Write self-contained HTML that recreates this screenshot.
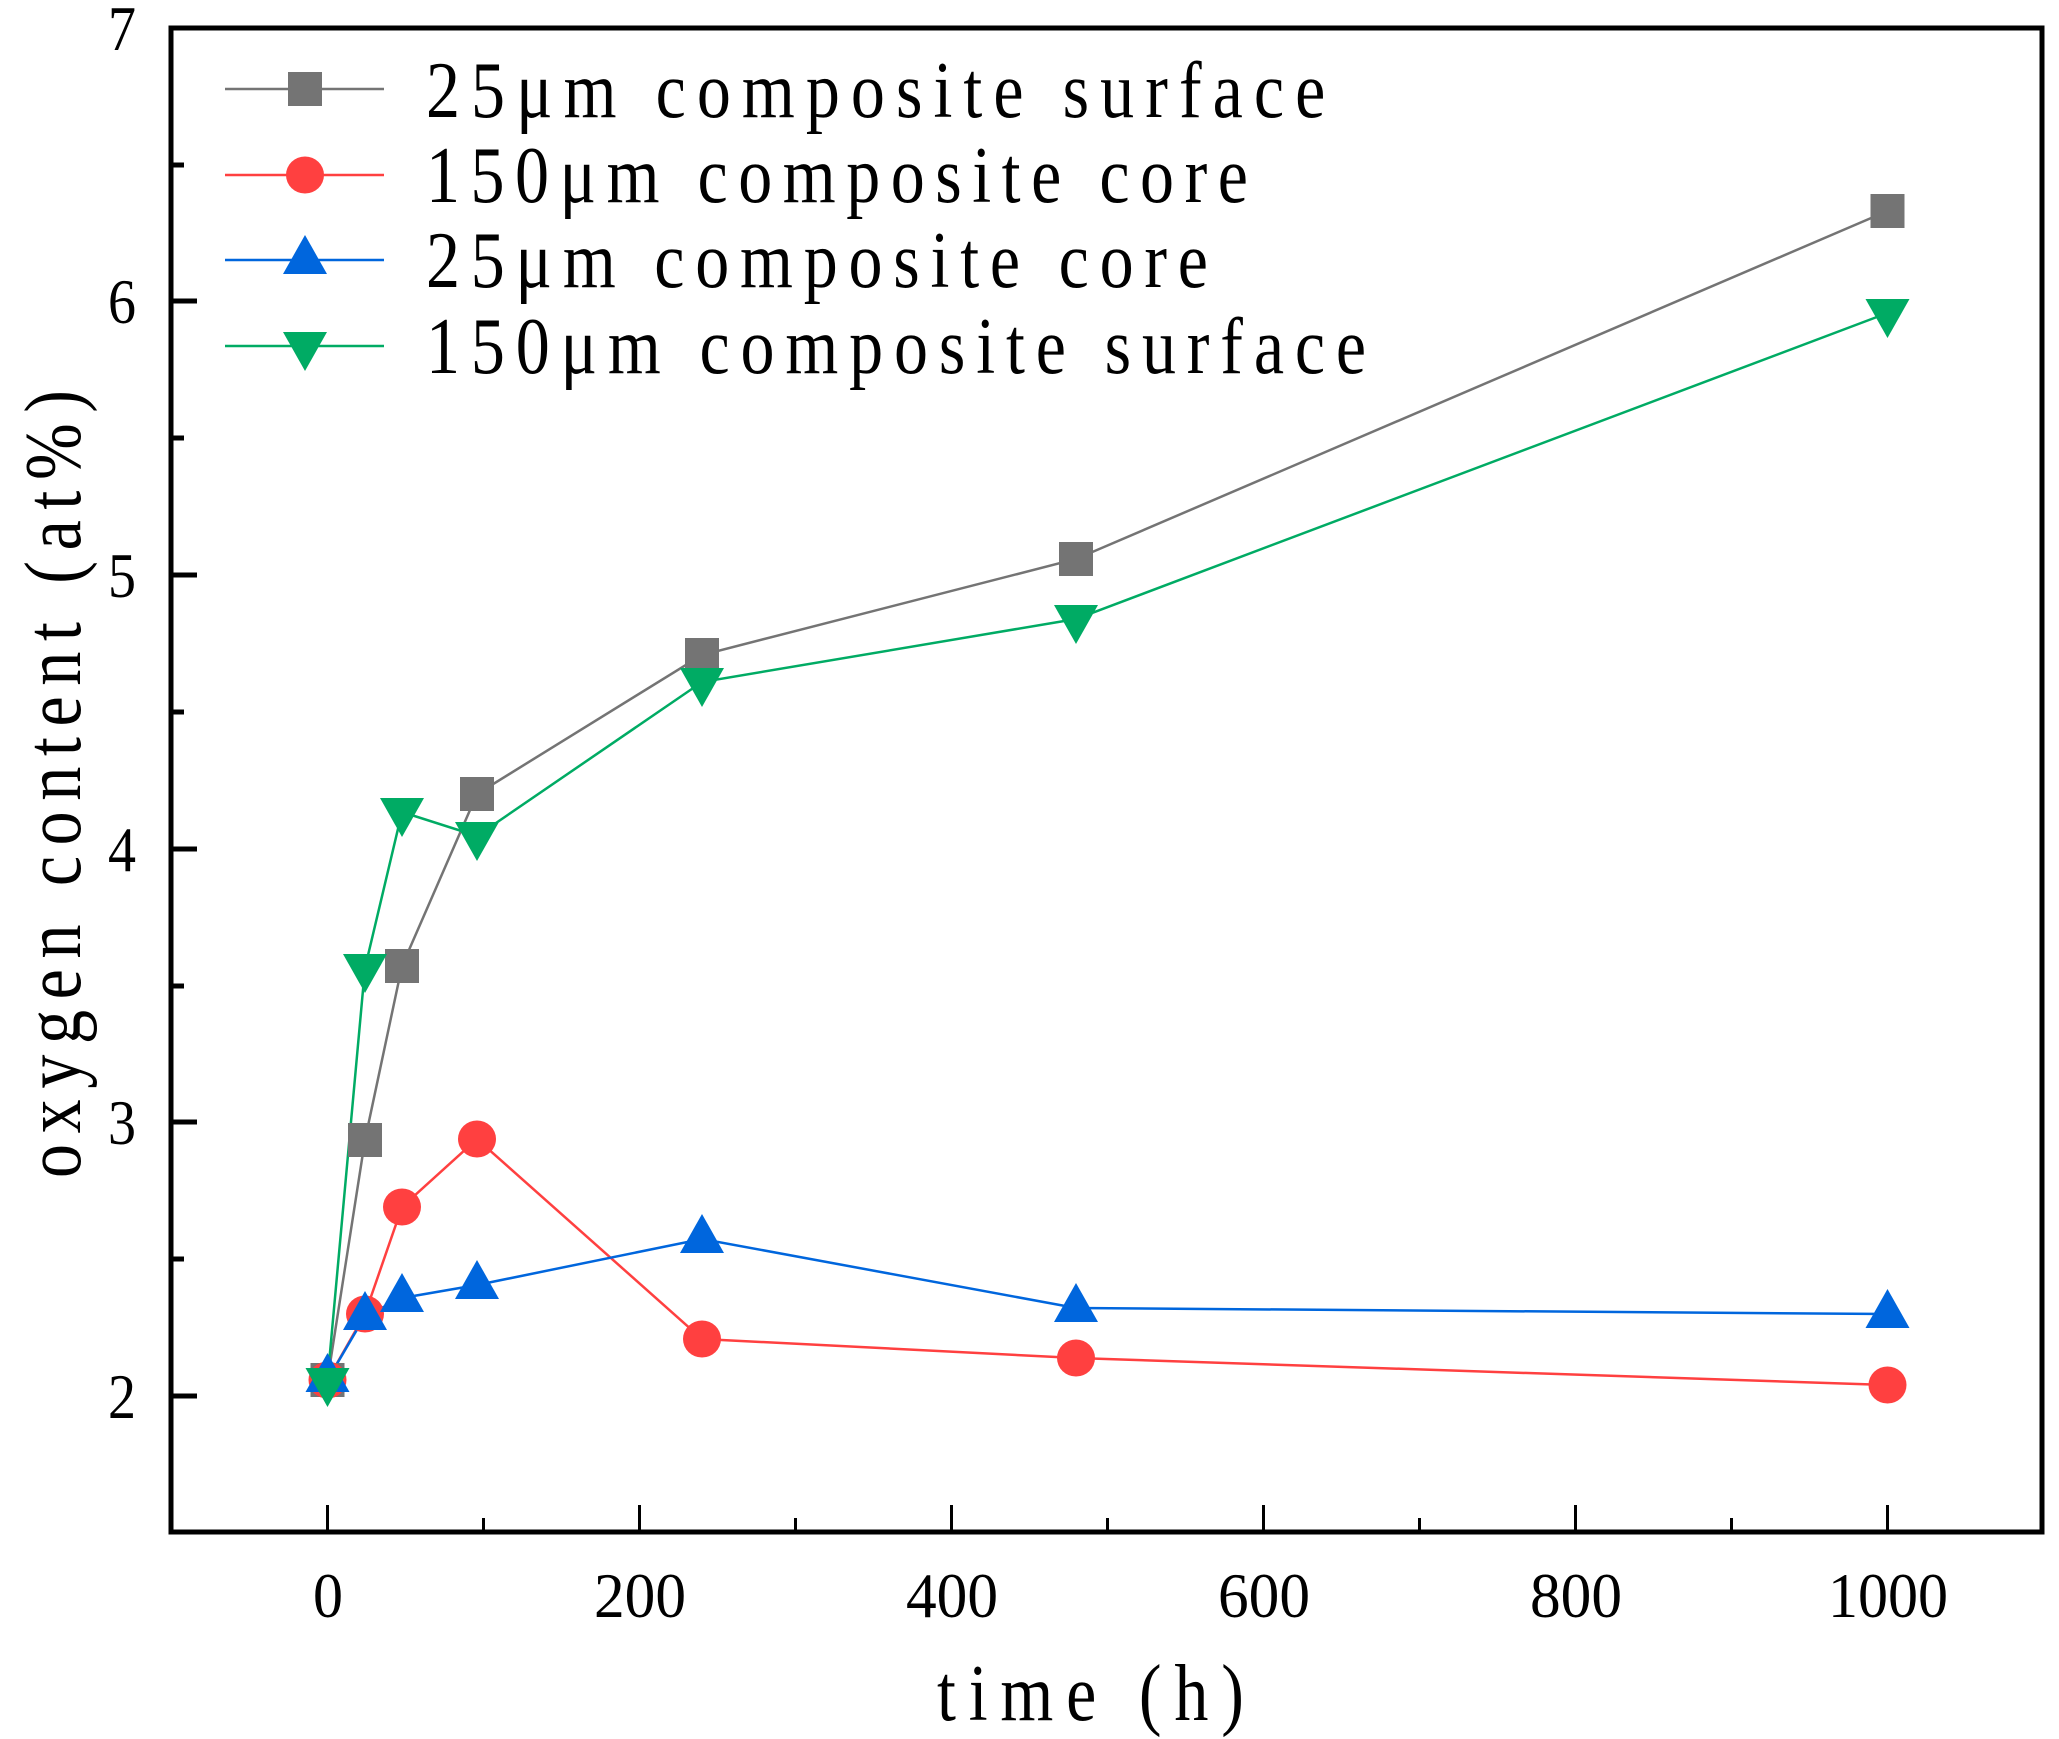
<!DOCTYPE html>
<html><head><meta charset="utf-8"><style>html,body{margin:0;padding:0;background:#fff}svg{display:block}</style></head>
<body>
<svg width="2059" height="1739" viewBox="0 0 2059 1739" xmlns="http://www.w3.org/2000/svg" font-family="'Liberation Serif','Noto Serif CJK SC',serif">
<rect width="2059" height="1739" fill="#fff"/>
<rect x="171" y="28" width="1871" height="1504" fill="none" stroke="#000" stroke-width="5"/>
<g stroke="#000" stroke-width="5">
<line x1="171" y1="1396" x2="197" y2="1396"/><line x1="171" y1="1122" x2="197" y2="1122"/><line x1="171" y1="849" x2="197" y2="849"/><line x1="171" y1="575" x2="197" y2="575"/><line x1="171" y1="301" x2="197" y2="301"/>
<line x1="171" y1="1259" x2="184" y2="1259"/><line x1="171" y1="986" x2="184" y2="986"/><line x1="171" y1="712" x2="184" y2="712"/><line x1="171" y1="438" x2="184" y2="438"/><line x1="171" y1="165" x2="184" y2="165"/>
</g>
<g stroke="#000" stroke-width="3">
<line x1="327.5" y1="1532" x2="327.5" y2="1505"/><line x1="639.5" y1="1532" x2="639.5" y2="1505"/><line x1="951.5" y1="1532" x2="951.5" y2="1505"/><line x1="1263.5" y1="1532" x2="1263.5" y2="1505"/><line x1="1575.5" y1="1532" x2="1575.5" y2="1505"/><line x1="1887.5" y1="1532" x2="1887.5" y2="1505"/>
<line x1="483.5" y1="1532" x2="483.5" y2="1518"/><line x1="795.5" y1="1532" x2="795.5" y2="1518"/><line x1="1107.5" y1="1532" x2="1107.5" y2="1518"/><line x1="1419.5" y1="1532" x2="1419.5" y2="1518"/><line x1="1731.5" y1="1532" x2="1731.5" y2="1518"/>
</g>
<g font-size="64" text-anchor="end">
<text x="136" y="1418" textLength="28" lengthAdjust="spacingAndGlyphs">2</text>
<text x="136" y="1144" textLength="28" lengthAdjust="spacingAndGlyphs">3</text>
<text x="136" y="871" textLength="28" lengthAdjust="spacingAndGlyphs">4</text>
<text x="136" y="597" textLength="28" lengthAdjust="spacingAndGlyphs">5</text>
<text x="136" y="323" textLength="28" lengthAdjust="spacingAndGlyphs">6</text>
<text x="136" y="50" textLength="28" lengthAdjust="spacingAndGlyphs">7</text>
</g>
<g font-size="64" text-anchor="middle">
<text x="328" y="1617" textLength="30" lengthAdjust="spacingAndGlyphs">0</text>
<text x="640" y="1617" textLength="92" lengthAdjust="spacingAndGlyphs">200</text>
<text x="952" y="1617" textLength="92" lengthAdjust="spacingAndGlyphs">400</text>
<text x="1264" y="1617" textLength="92" lengthAdjust="spacingAndGlyphs">600</text>
<text x="1576" y="1617" textLength="92" lengthAdjust="spacingAndGlyphs">800</text>
<text x="1888" y="1617" textLength="120" lengthAdjust="spacingAndGlyphs">1000</text>
</g>
<text transform="translate(937,1720) scale(0.85,1)" font-size="80" textLength="361" lengthAdjust="spacing">time (h)</text>
<text transform="translate(80,1178) rotate(-90) scale(0.85,1)" font-size="80" textLength="927" lengthAdjust="spacing">oxygen content (at%)</text>
<g stroke-width="2.5" fill="none">
<polyline stroke="#747474" points="327.5,1380 365,1140 402,966 477,794 702,655 1076,559 1887.5,211"/>
<polyline stroke="#ff4040" points="327.5,1380 365,1314 402,1207 477,1139 702,1339 1076,1358 1887.5,1385"/>
<polyline stroke="#0066dd" points="327.5,1380 365,1316 402,1298 477,1285 702,1239 1076,1308 1887.5,1314"/>
<polyline stroke="#00ab64" points="327.5,1380 365,968 402,812 477,836 702,682 1076,619 1887.5,313"/>
</g>
<defs>
<rect id="sq" x="-17" y="-17" width="34" height="34" fill="#747474"/>
<ellipse id="ci" rx="19" ry="18.5" fill="#ff4040"/>
<polygon id="tu" points="0,-25 22,14 -22,14" fill="#0066dd"/>
<polygon id="td" points="0,25 22,-14 -22,-14" fill="#00ab64"/>
</defs>
<g>
<use href="#sq" x="327.5" y="1380"/><use href="#sq" x="365" y="1140"/><use href="#sq" x="402" y="966"/><use href="#sq" x="477" y="794"/><use href="#sq" x="702" y="655"/><use href="#sq" x="1076" y="559"/><use href="#sq" x="1887.5" y="211"/>
<use href="#ci" x="327.5" y="1380"/><use href="#ci" x="365" y="1314"/><use href="#ci" x="402" y="1207"/><use href="#ci" x="477" y="1139"/><use href="#ci" x="702" y="1339"/><use href="#ci" x="1076" y="1358"/><use href="#ci" x="1887.5" y="1385"/>
<use href="#tu" x="327.5" y="1378"/><use href="#tu" x="365" y="1316"/><use href="#tu" x="402" y="1298"/><use href="#tu" x="477" y="1285"/><use href="#tu" x="702" y="1239"/><use href="#tu" x="1076" y="1308"/><use href="#tu" x="1887.5" y="1314"/>
<use href="#td" x="327.5" y="1382"/><use href="#td" x="365" y="968"/><use href="#td" x="402" y="812"/><use href="#td" x="477" y="836"/><use href="#td" x="702" y="682"/><use href="#td" x="1076" y="619"/><use href="#td" x="1887.5" y="313"/>
</g>
<g stroke-width="2.5">
<line x1="225" y1="89" x2="384" y2="89" stroke="#747474"/>
<line x1="225" y1="175" x2="384" y2="175" stroke="#ff4040"/>
<line x1="225" y1="260" x2="384" y2="260" stroke="#0066dd"/>
<line x1="225" y1="346" x2="384" y2="346" stroke="#00ab64"/>
</g>
<use href="#sq" x="305" y="89"/><use href="#ci" x="305" y="175"/><use href="#tu" x="305" y="260"/><use href="#td" x="305" y="346"/>
<g font-size="80">
<text transform="translate(426,117) scale(0.85,1)" textLength="1058" lengthAdjust="spacing">25μm composite surface</text>
<text transform="translate(426,202) scale(0.85,1)" textLength="967" lengthAdjust="spacing">150μm composite core</text>
<text transform="translate(426,287) scale(0.85,1)" textLength="920" lengthAdjust="spacing">25μm composite core</text>
<text transform="translate(426,373) scale(0.85,1)" textLength="1106" lengthAdjust="spacing">150μm composite surface</text>
</g>
</svg>
</body></html>
